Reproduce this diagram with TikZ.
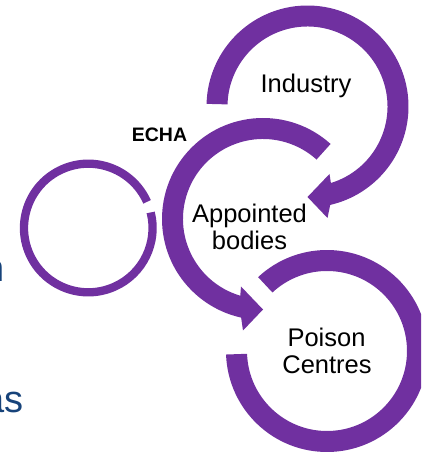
\documentclass[tikz,border=0pt]{standalone}
\usepackage{fontspec}
\setmainfont{Liberation Sans}
\definecolor{pur}{RGB}{112,48,160}
\definecolor{dblue}{RGB}{23,67,122}
\begin{document}
\begin{tikzpicture}[x=1pt,y=1pt,
  band/.style={fill=pur},
  lbl/.style={inner sep=0pt,anchor=base,text=black,font=\fontsize{25.5}{27}\selectfont},
  frag/.style={inner sep=0pt,anchor=base east,text=dblue,font=\fontsize{38}{40}\selectfont}]
\useasboundingbox (0,0) rectangle (421,453);
\clip (0,0) rectangle (421,453);
% Industry arc with arrow
\begin{scope}[shift={(307.5,346.5)}]
  \fill[band] (178.5:101) arc[start angle=178.5, end angle=-77, radius=101]
    -- (20,-111.5) -- (0,-90.5) -- (22,-67.5) -- (-73:80)
    arc[start angle=-73, end angle=178.5, radius=80] -- cycle;
\end{scope}
% Appointed bodies arc with arrow
\begin{scope}[shift={(263,234)}]
  \fill[band] (48:101) arc[start angle=48, end angle=257.5, radius=101]
    -- (-20,-111.5) -- (0,-90.5) -- (-22,-67.5) -- (253.5:80)
    arc[start angle=253.5, end angle=48, radius=80] -- cycle;
\end{scope}
% Poison Centres arc
\begin{scope}[shift={(327,102)}]
  \fill[band] (133:101) arc[start angle=133, end angle=-178, radius=101]
    -- (-178:80) arc[start angle=-178, end angle=133, radius=80] -- cycle;
\end{scope}
% ECHA ring
\begin{scope}[shift={(88.3,225)}]
  \draw[pur, line width=8.3pt] (24:64.3) arc[start angle=24, end angle=374, radius=64.3];
\end{scope}
% labels
\node[lbl] (ind) at (306,360) {Industry};
\node[lbl] (app1) at (249.5,230.3) {Appointed};
\node[lbl] (app2) at (249.5,203.7) {bodies};
\node[lbl] (poi1) at (326.5,106.3) {Poison};
\node[lbl] (poi2) at (327,79) {Centres};
\node[inner sep=0pt,anchor=base,font=\fontsize{19.5}{21}\selectfont\bfseries] (echa) at (159.5,311.3) {ECHA};
% clipped fragments of text on the left
\node[frag] (fragn) at (5.3,171) {n};
\node[frag] (fragas) at (23.4,41) {as};
\end{tikzpicture}
\end{document}
